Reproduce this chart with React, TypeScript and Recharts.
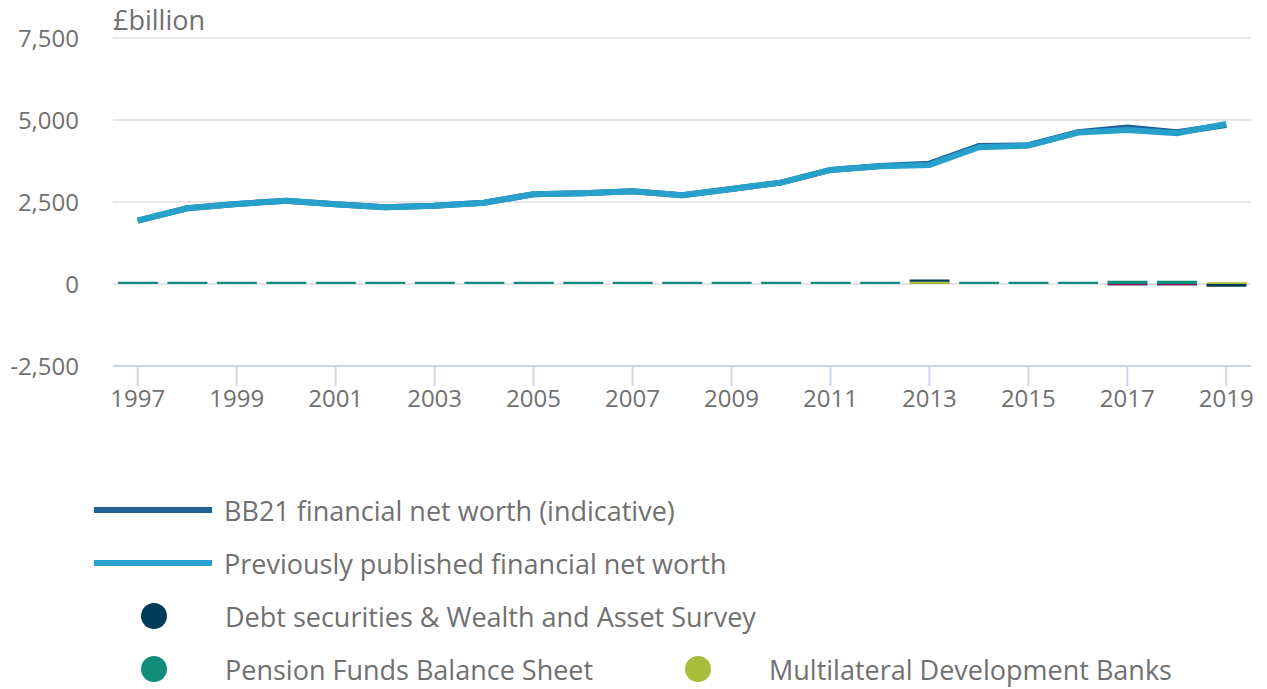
import { ComposedChart, Line, Bar, XAxis, YAxis, CartesianGrid } from "recharts";

const years = [
  "1997", "1998", "1999", "2000", "2001", "2002", "2003", "2004", "2005", "2006", "2007", "2008",
  "2009", "2010", "2011", "2012", "2013", "2014", "2015", "2016", "2017", "2018", "2019",
];

// £billion
const bb21 = [
  1931, 2309, 2440, 2541, 2431, 2339, 2388, 2480, 2736, 2766, 2827, 2705,
  2897, 3090, 3477, 3600, 3670, 4210, 4230, 4625, 4770, 4625, 4850,
];
const published = [
  1931, 2309, 2440, 2541, 2431, 2339, 2388, 2480, 2736, 2766, 2827, 2705,
  2897, 3090, 3477, 3590, 3630, 4169, 4220, 4615, 4697, 4596, 4880,
];
const debtWas = [0, 0, 0, 0, 0, 0, 0, 0, 0, 0, 0, 0, 0, 0, 0, 0, 70, 0, 0, 0, 0, 0, -85];
const pensionFunds = [70, 70, 70, 70, 70, 70, 70, 70, 70, 70, 70, 70, 70, 70, 70, 70, 0, 70, 70, 70, 100, 100, 0];
const mdb = [0, 0, 0, 0, 0, 0, 0, 0, 0, 0, 0, 0, 0, 0, 0, 0, 70, 0, 0, 0, 0, 0, 50];
const other = [0, 0, 0, 0, 0, 0, 0, 0, 0, 0, 0, 0, 0, 0, 0, 0, 0, 0, 0, 0, -45, -45, 0];

const yTicks = [-2500, 0, 2500, 5000, 7500];

const data = years.map((y, i) => ({
  year: y,
  bb21: bb21[i],
  published: published[i],
  debt: debtWas[i],
  pension: pensionFunds[i],
  mdb: mdb[i],
  other: other[i],
}));

const textColor = "#707070";
const font = "'Open Sans', sans-serif";

const lineKeys = [
  { name: "BB21 financial net worth (indicative)", color: "#206095" },
  { name: "Previously published financial net worth", color: "#27a0cc" },
];

export default function App() {
  return (
    <div style={{ position: "absolute", left: 0, top: 0, width: 1267, height: 689, background: "#fff", fontFamily: font }}>
      <div style={{ position: "absolute", left: 113, top: 1, fontSize: 27, color: textColor, lineHeight: "37px" }}>
        £billion
      </div>
      <ComposedChart
        width={1267}
        height={416}
        data={data}
        stackOffset="sign"
        barCategoryGap="10%"
        margin={{ top: 38, right: 16, left: 0, bottom: 0 }}
      >
        <CartesianGrid vertical={false} stroke="#e6e6e6" strokeWidth={2} />
        <XAxis
          dataKey="year"
          interval={1}
          tickSize={20}
          tickMargin={4}
          height={50}
          axisLine={{ stroke: "#ccd6eb", strokeWidth: 2 }}
          tickLine={{ stroke: "#ccd6eb", strokeWidth: 2 }}
          tick={{ fill: textColor, fontSize: 24, fontFamily: font }}
        />
        <YAxis
          domain={[-2500, 7500]}
          ticks={yTicks}
          width={113}
          axisLine={false}
          tickLine={false}
          tickSize={0}
          tickMargin={34}
          tickFormatter={(v) => Number(v).toLocaleString("en-GB")}
          tick={{ fill: textColor, fontSize: 24, fontFamily: font }}
        />
        <Bar dataKey="pension" stackId="a" fill="#118c7b" isAnimationActive={false} />
        <Bar dataKey="mdb" stackId="a" fill="#a8bd3a" isAnimationActive={false} />
        <Bar dataKey="debt" stackId="a" fill="#003c57" isAnimationActive={false} />
        <Bar dataKey="other" stackId="a" fill="#871a5b" isAnimationActive={false} />
        <Line dataKey="bb21" stroke="#206095" strokeWidth={6} dot={false} isAnimationActive={false} />
        <Line dataKey="published" stroke="#27a0cc" strokeWidth={6} dot={false} isAnimationActive={false} />
      </ComposedChart>

      {lineKeys.map((k, i) => (
        <div key={k.name} style={{ position: "absolute", left: 94, top: 490 + i * 53, height: 40, display: "flex", alignItems: "center" }}>
          <span style={{ width: 118, height: 6, background: k.color, display: "inline-block" }} />
          <span style={{ marginLeft: 12, fontSize: 27, color: textColor, whiteSpace: "nowrap" }}>{k.name}</span>
        </div>
      ))}

      {[
        { name: "Debt securities & Wealth and Asset Survey", color: "#003c57", x: 141, y: 596 },
        { name: "Pension Funds Balance Sheet", color: "#118c7b", x: 141, y: 649 },
        { name: "Multilateral Development Banks", color: "#a8bd3a", x: 685, y: 649 },
      ].map((k) => (
        <div key={k.name} style={{ position: "absolute", left: k.x, top: k.y, height: 40, display: "flex", alignItems: "center" }}>
          <span style={{ width: 26, height: 26, borderRadius: 13, background: k.color, display: "inline-block" }} />
          <span style={{ marginLeft: 58, fontSize: 27, color: textColor, whiteSpace: "nowrap" }}>{k.name}</span>
        </div>
      ))}
    </div>
  );
}
